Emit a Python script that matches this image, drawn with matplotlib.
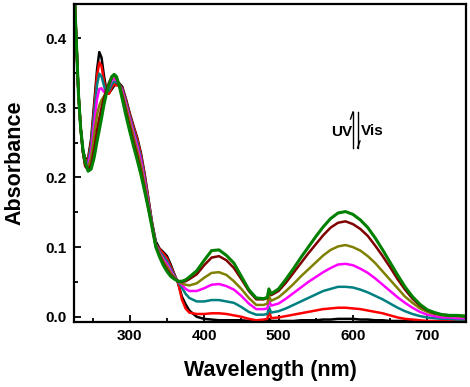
import matplotlib
matplotlib.use("Agg")
import matplotlib.pyplot as plt
from matplotlib.ticker import MultipleLocator
from matplotlib.lines import Line2D

plt.rcParams['font.family'] = ['Liberation Sans', 'DejaVu Sans']
plt.rcParams['font.weight'] = 'bold'

wavelength = [225, 228, 231, 234, 237, 240, 244, 248, 252, 256, 259, 262, 265, 268, 272, 276,
              279, 282, 286, 290, 295, 300, 305, 310, 315, 320, 325, 330, 335, 340, 345, 350,
              355, 360, 365,
              370, 375, 380, 390, 400, 410, 420, 430, 440, 450, 460, 470, 480, 485, 487,
              490, 500, 510, 520, 530, 540, 550, 560, 570, 580, 590, 600, 610, 620, 630,
              640, 650, 660, 670, 680, 690, 700, 710, 720, 730, 740, 750]

abs_black = [0.48, 0.40, 0.32, 0.27, 0.24, 0.226, 0.228, 0.255, 0.305, 0.355, 0.380, 0.372,
             0.348, 0.328, 0.321, 0.327, 0.332, 0.335, 0.335, 0.330, 0.312, 0.292, 0.274,
             0.257, 0.235, 0.205, 0.170, 0.135, 0.108, 0.098, 0.093, 0.087, 0.075, 0.061, 0.048,
             0.029, 0.018, 0.009, 0.000, -0.003, -0.004, -0.005, -0.005, -0.005, -0.005,
             -0.006, -0.006, -0.006, -0.006, -0.003,
             -0.006, -0.006, -0.006, -0.006, -0.005, -0.005, -0.005, -0.004, -0.004, -0.003,
             -0.003, -0.003, -0.004, -0.004, -0.005, -0.005, -0.006, -0.006, -0.006, -0.006,
             -0.007, -0.007, -0.007, -0.007, -0.007, -0.007, -0.007]

abs_red = [0.48, 0.40, 0.32, 0.27, 0.239, 0.224, 0.226, 0.250, 0.298, 0.346, 0.365, 0.360,
           0.340, 0.322, 0.320, 0.330, 0.334, 0.332, 0.332, 0.328, 0.310, 0.290, 0.272,
           0.255, 0.232, 0.203, 0.168, 0.133, 0.104, 0.097, 0.091, 0.084, 0.072, 0.060, 0.049,
           0.025, 0.012, 0.006, 0.004, 0.004, 0.005, 0.005, 0.004, 0.002, 0.000, -0.003,
           -0.005, -0.004, -0.003, 0.010,
           -0.002, -0.001, 0.001, 0.003, 0.005, 0.007, 0.009, 0.011, 0.012, 0.013, 0.013,
           0.012, 0.011, 0.009, 0.007, 0.005, 0.002, -0.001, -0.003, -0.004, -0.005, -0.006,
           -0.006, -0.006, -0.006, -0.006, -0.006]

abs_teal = [0.48, 0.40, 0.32, 0.27, 0.238, 0.222, 0.222, 0.245, 0.290, 0.333, 0.349, 0.345,
            0.333, 0.322, 0.325, 0.334, 0.338, 0.336, 0.333, 0.326, 0.307, 0.287, 0.268,
            0.250, 0.228, 0.199, 0.165, 0.132, 0.104, 0.094, 0.087, 0.080, 0.069, 0.059, 0.050,
            0.042, 0.033, 0.027, 0.022, 0.022, 0.024, 0.024, 0.022, 0.020, 0.014, 0.007,
            0.003, 0.003, 0.004, 0.014,
            0.006, 0.008, 0.012, 0.017, 0.022, 0.027, 0.032, 0.037, 0.040, 0.043, 0.043,
            0.042, 0.039, 0.035, 0.030, 0.025, 0.019, 0.013, 0.008, 0.004, 0.001, -0.001,
            -0.002, -0.003, -0.003, -0.004, -0.004]

abs_magenta = [0.48, 0.40, 0.32, 0.27, 0.237, 0.220, 0.218, 0.237, 0.275, 0.313, 0.327, 0.328,
               0.323, 0.322, 0.330, 0.340, 0.342, 0.339, 0.333, 0.324, 0.304, 0.284, 0.264,
               0.245, 0.224, 0.195, 0.162, 0.131, 0.103, 0.092, 0.083, 0.076, 0.066, 0.057, 0.051,
               0.046, 0.040, 0.037, 0.037, 0.041, 0.046, 0.047, 0.044, 0.039, 0.030, 0.019,
               0.011, 0.011, 0.012, 0.024,
               0.016, 0.019, 0.026, 0.034, 0.042, 0.050, 0.057, 0.064, 0.070, 0.075, 0.076,
               0.074, 0.069, 0.063, 0.055, 0.046, 0.037, 0.028, 0.020, 0.013, 0.007, 0.003,
               0.001, -0.001, -0.001, -0.002, -0.002]

abs_olive = [0.48, 0.40, 0.32, 0.27, 0.236, 0.218, 0.214, 0.228, 0.260, 0.290, 0.303, 0.311,
             0.316, 0.322, 0.334, 0.344, 0.346, 0.342, 0.333, 0.320, 0.300, 0.279, 0.258,
             0.238, 0.217, 0.189, 0.159, 0.130, 0.102, 0.090, 0.080, 0.072, 0.063, 0.056, 0.051,
             0.048, 0.046, 0.045, 0.048, 0.056, 0.063, 0.064, 0.060, 0.051, 0.040, 0.027,
             0.017, 0.017, 0.019, 0.030,
             0.023, 0.028, 0.037, 0.047, 0.058, 0.068, 0.078, 0.088, 0.096, 0.101, 0.103,
             0.100, 0.095, 0.087, 0.077, 0.065, 0.053, 0.041, 0.029, 0.020, 0.012, 0.007,
             0.004, 0.002, 0.001, 0.001, 0.000]

abs_maroon = [0.48, 0.40, 0.32, 0.27, 0.236, 0.216, 0.211, 0.218, 0.240, 0.268, 0.285, 0.300,
              0.313, 0.324, 0.336, 0.345, 0.347, 0.344, 0.332, 0.316, 0.294, 0.272, 0.251,
              0.231, 0.209, 0.184, 0.156, 0.129, 0.101, 0.088, 0.077, 0.068, 0.060, 0.055, 0.051,
              0.050, 0.051, 0.054, 0.061, 0.074, 0.085, 0.087, 0.081, 0.070, 0.054, 0.037,
              0.025, 0.025, 0.027, 0.038,
              0.031, 0.037, 0.049, 0.063, 0.077, 0.091, 0.104, 0.117, 0.128, 0.135, 0.137,
              0.133, 0.126, 0.116, 0.102, 0.087, 0.071, 0.054, 0.039, 0.026, 0.016, 0.009,
              0.005, 0.003, 0.002, 0.002, 0.001]

abs_green = [0.48, 0.40, 0.32, 0.27, 0.240, 0.222, 0.209, 0.212, 0.228, 0.252, 0.268, 0.285,
             0.303, 0.318, 0.333, 0.345, 0.348, 0.345, 0.331, 0.312, 0.288, 0.266, 0.245,
             0.225, 0.204, 0.180, 0.155, 0.128, 0.100, 0.086, 0.074, 0.065, 0.058, 0.054, 0.051,
             0.051, 0.053, 0.057, 0.066, 0.081, 0.095, 0.096, 0.088, 0.077, 0.058, 0.039,
             0.027, 0.026, 0.028, 0.040,
             0.033, 0.040, 0.054, 0.069, 0.085, 0.100, 0.115, 0.129, 0.141, 0.149, 0.151,
             0.147, 0.139, 0.128, 0.113, 0.096, 0.078, 0.060, 0.043, 0.029, 0.018, 0.010,
             0.006, 0.003, 0.002, 0.002, 0.001]

series = [abs_black, abs_red, abs_teal, abs_magenta, abs_olive, abs_maroon, abs_green]
colors = ['#000000', '#ff0000', '#008080', '#ff00ff', '#808000', '#800000', '#008000']
widths = [1.8, 1.8, 1.8, 1.8, 1.8, 1.8, 2.2]

W, H = 470, 387
fig = plt.figure(figsize=(W / 100, H / 100), dpi=100)
ax = fig.add_axes([74 / W, 1 - 322 / H, (466 - 74) / W, (322 - 4) / H])

for ys, c, lw in zip(series, colors, widths):
    ax.plot(wavelength, ys, color=c, lw=lw, solid_joinstyle='round')

ax.set_xlim(225, 752)
ax.set_ylim(-0.0075, 0.449)
ax.xaxis.set_major_locator(MultipleLocator(100))
ax.xaxis.set_minor_locator(MultipleLocator(50))
ax.yaxis.set_major_locator(MultipleLocator(0.1))
ax.yaxis.set_minor_locator(MultipleLocator(0.05))
ax.tick_params(which='both', direction='in', width=1.3, top=False, right=False,
               labelsize=11, pad=5)
ax.tick_params(which='major', length=5)
ax.tick_params(which='minor', length=3)
for lab in ax.get_xticklabels() + ax.get_yticklabels():
    lab.set_fontweight('bold')
for sp in ax.spines.values():
    sp.set_linewidth(1.6)

ax.set_xlabel('Wavelength (nm)', fontsize=15.5, fontweight='bold')
ax.set_ylabel('Absorbance', fontsize=15.5, fontweight='bold')
ax.xaxis.set_label_coords(0.5, -0.118)
ax.yaxis.set_label_coords(-0.125, 0.5)


def px(x, y):
    return x / W, 1 - y / H


fig.text(*px(352, 136), 'UV', ha='right', va='baseline', fontsize=11, fontweight='bold')
fig.text(*px(361, 135), 'Vis', ha='left', va='baseline', fontsize=11, fontweight='bold')
for (x0, y0), (x1, y1) in [((353, 148), (353, 112)), ((353, 112), (350.5, 119)),
                           ((357.5, 112), (357.5, 148)), ((357.5, 148), (360, 141))]:
    a, b = px(x0, y0)
    c, d = px(x1, y1)
    fig.add_artist(Line2D([a, c], [b, d], color='black', lw=1.0, transform=fig.transFigure))

fig.savefig('out.png', dpi=100)
